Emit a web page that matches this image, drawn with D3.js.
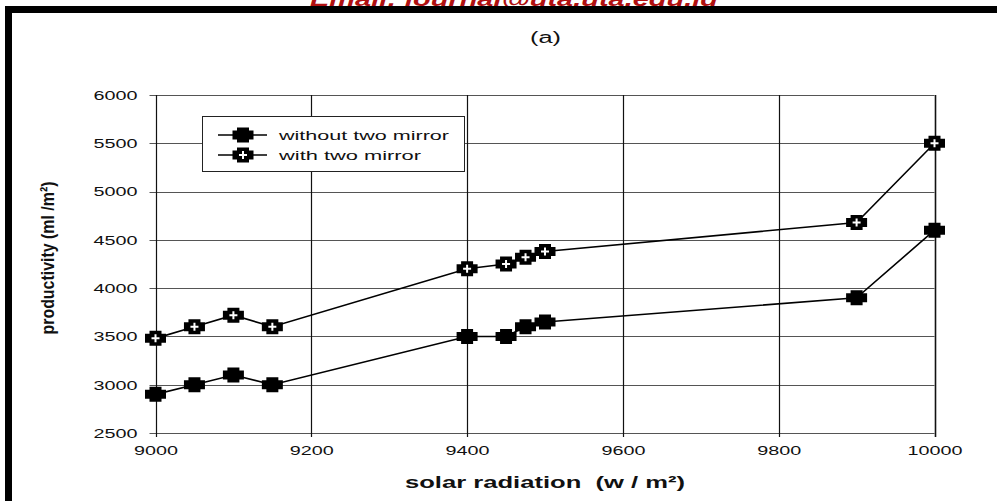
<!DOCTYPE html>
<html>
<head>
<meta charset="utf-8">
<script src="https://cdn.jsdelivr.net/npm/d3@7"></script>
<style>
  html, body { margin: 0; padding: 0; background: #fff; }
  svg { display: block; }
</style>
</head>
<body>
<svg id="chart" width="997" height="501"></svg>
<script>
// Solar radiation (w/m²) and productivity (ml/m²) of the still
const radiation = [9000, 9050, 9100, 9150, 9400, 9450, 9475, 9500, 9900, 10000];
const withoutMirror = [2900, 3000, 3100, 3000, 3500, 3500, 3600, 3650, 3900, 4600];
const withMirror = [3480, 3600, 3720, 3600, 4200, 4250, 4320, 4380, 4680, 5500];
const seriesNames = ["without two mirror", "with two mirror"];
const xTicks = [9000, 9200, 9400, 9600, 9800, 10000];
const yTicks = [2500, 3000, 3500, 4000, 4500, 5000, 5500, 6000];

const svg = d3.select("#chart");
const font = "'Liberation Sans', Arial, Helvetica, sans-serif";
const digitWidth = 11; // wide figure style used on both axes

const x = d3.scaleLinear().domain([9000, 10000]).range([155.5, 934.5]);
const y = d3.scaleLinear().domain([2500, 6000]).range([433, 95]);

// journal header, partly hidden behind the frame
svg.append("text")
  .attr("x", 514).attr("y", 6)
  .attr("text-anchor", "middle")
  .attr("font-family", font).attr("font-size", 21)
  .attr("font-weight", "bold").attr("font-style", "italic")
  .attr("textLength", 408).attr("lengthAdjust", "spacingAndGlyphs")
  .attr("fill", "#b01010")
  .text("Email: journal@uta.uta.edu.iq");

// page frame
svg.append("rect")
  .attr("x", 8.5).attr("y", 9.5).attr("width", 1100).attr("height", 600)
  .attr("fill", "none").attr("stroke", "#000").attr("stroke-width", 7);

svg.append("text")
  .attr("x", 545.5).attr("y", 43)
  .attr("text-anchor", "middle")
  .attr("font-family", font).attr("font-size", 16)
  .attr("textLength", 31).attr("lengthAdjust", "spacingAndGlyphs")
  .attr("fill", "#111")
  .text("(a)");

// grid: horizontal lines with left ticks
const grid = svg.append("g");
grid.selectAll("line.h").data(yTicks).join("line")
  .attr("class", "h")
  .attr("x1", x(9000) - 6).attr("x2", x(10000))
  .attr("y1", d => Math.round(y(d)) + 0.5).attr("y2", d => Math.round(y(d)) + 0.5)
  .attr("stroke", "#555").attr("stroke-width", 1);

// vertical lines with bottom ticks
grid.selectAll("line.v").data(xTicks).join("line")
  .attr("class", "v")
  .attr("x1", d => Math.round(x(d)) + 0.5).attr("x2", d => Math.round(x(d)) + 0.5)
  .attr("y1", y(6000)).attr("y2", y(2500) + 4)
  .attr("stroke", "#111").attr("stroke-width", d => d === 10000 ? 1.6 : 1.2);

// tick labels via d3 axes (lines hidden, text kept)
const fmt = d3.format("d");
const yAxis = svg.append("g")
  .attr("transform", `translate(${x(9000) - 18},0)`)
  .call(d3.axisLeft(y).tickValues(yTicks).tickFormat(fmt).tickSize(0).tickPadding(0));
yAxis.select(".domain").remove();
yAxis.selectAll("text")
  .attr("font-family", font).attr("font-size", 12.5).attr("fill", "#111")
  .attr("dy", "0.35em")
  .attr("textLength", d => fmt(d).length * digitWidth)
  .attr("lengthAdjust", "spacingAndGlyphs");

const xAxis = svg.append("g")
  .attr("transform", `translate(0,${y(2500) + 13})`)
  .call(d3.axisBottom(x).tickValues(xTicks).tickFormat(fmt).tickSize(0).tickPadding(0));
xAxis.select(".domain").remove();
xAxis.selectAll("text")
  .attr("font-family", font).attr("font-size", 13).attr("fill", "#111")
  .attr("dy", "0.71em")
  .attr("textLength", d => fmt(d).length * digitWidth)
  .attr("lengthAdjust", "spacingAndGlyphs");

// axis titles
svg.append("text")
  .attr("x", 545).attr("y", 488)
  .attr("text-anchor", "middle")
  .attr("font-family", font).attr("font-size", 17).attr("font-weight", "bold")
  .attr("textLength", 280).attr("lengthAdjust", "spacingAndGlyphs")
  .style("white-space", "pre")
  .attr("fill", "#111")
  .text("solar radiation  (w / m²)");

svg.append("text")
  .attr("transform", "translate(54,258) rotate(-90)")
  .attr("text-anchor", "middle")
  .attr("font-family", "'Liberation Sans Narrow', 'Arial Narrow', " + font)
  .attr("font-size", 19).attr("font-weight", "bold")
  .attr("textLength", 153).attr("lengthAdjust", "spacingAndGlyphs")
  .attr("fill", "#111")
  .text("productivity (ml /m²)");

// marker: fat plus shape, optionally with a white cross inside
const crossPath = "M-10.5,-4.5 L-6,-4.5 L-6,-7.5 L6,-7.5 L6,-4.5 L10.5,-4.5 L10.5,4.5 L6,4.5 L6,7.5 L-6,7.5 L-6,4.5 L-10.5,4.5 Z";
function drawMarker(g, open) {
  g.append("path").attr("d", crossPath).attr("fill", "#000");
  if (open) {
    g.append("path").attr("d", "M-4,-1 L-1,-1 L-1,-4 L1,-4 L1,-1 L4,-1 L4,1 L1,1 L1,4 L-1,4 L-1,1 L-4,1 Z")
      .attr("fill", "#fff");
  }
}

const line = d3.line().x(d => x(d[0])).y(d => y(d[1]));
const series = [
  { name: seriesNames[0], values: withoutMirror, open: false, labelWidth: 170 },
  { name: seriesNames[1], values: withMirror, open: true, labelWidth: 142 }
];

series.forEach(s => {
  const pts = radiation.map((r, i) => [r, s.values[i]]);
  svg.append("path").datum(pts)
    .attr("d", line).attr("fill", "none")
    .attr("stroke", "#000").attr("stroke-width", 1.6);
  pts.forEach(p => {
    const g = svg.append("g").attr("transform", `translate(${x(p[0])},${y(p[1])})`);
    drawMarker(g, s.open);
  });
});

// legend
const legend = svg.append("g");
legend.append("rect")
  .attr("x", 202.5).attr("y", 116.5).attr("width", 262).attr("height", 55)
  .attr("fill", "#fff").attr("stroke", "#222").attr("stroke-width", 1);
series.forEach((s, i) => {
  const cy = 135 + i * 20;
  legend.append("line")
    .attr("x1", 218).attr("x2", 267).attr("y1", cy).attr("y2", cy)
    .attr("stroke", "#000").attr("stroke-width", 1.6);
  const g = legend.append("g").attr("transform", `translate(243,${cy})`);
  drawMarker(g, s.open);
  legend.append("text")
    .attr("x", 279).attr("y", cy).attr("dy", "0.35em")
    .attr("font-family", font).attr("font-size", 13.5).attr("fill", "#111")
    .attr("textLength", s.labelWidth).attr("lengthAdjust", "spacingAndGlyphs")
    .text(s.name);
});
</script>
</body>
</html>
